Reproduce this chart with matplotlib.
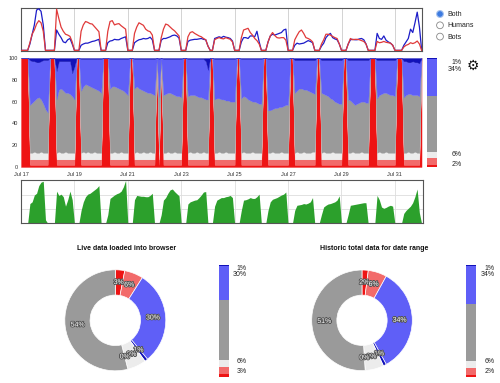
import numpy as np
import pandas as pd
import matplotlib
matplotlib.use('Agg')
import matplotlib.pyplot as plt
from matplotlib.patches import Circle
import matplotlib.patheffects as pe

plt.rcParams['font.family'] = ['Liberation Sans', 'DejaVu Sans']

# ---------------- data ----------------
start = pd.Timestamp('2013-07-17 00:00')
times = pd.date_range(start, periods=181, freq='2h')   # every 2 h, Jul 17 -> Aug 1
tick_dates = pd.date_range(start, periods=8, freq='2D')
tick_labels = ['Jul 17', 'Jul 19', 'Jul 21', 'Jul 23', 'Jul 25', 'Jul 27', 'Jul 29', 'Jul 31']

# top chart: activity lines (relative)
line_red = [
    0, 0, 0, 0, 18, 38, 48, 62, 70, 65, 45, 0,
    0, 0, 0, 0, 97, 75, 55, 45, 38, 36, 33, 20,
    0, 0, 0, 45, 60, 68, 66, 63, 62, 56, 50, 44,
    0, 0, 0, 45, 68, 70, 60, 62, 63, 58, 54, 50,
    0, 0, 0, 40, 55, 65, 62, 59, 50, 46, 44, 36,
    0, 0, 0, 30, 50, 62, 60, 55, 50, 46, 40, 34,
    0, 0, 0, 32, 42, 44, 40, 37, 34, 32, 28, 25,
    10, 0, 0, 25, 28, 30, 28, 27, 30, 28, 26, 20,
    0, 0, 0, 30, 48, 50, 52, 42, 36, 28, 23, 15,
    0, 0, 0, 20, 34, 42, 35, 30, 29, 30, 30, 24,
    0, 0, 0, 25, 35, 44, 48, 40, 30, 28, 25, 20,
    0, 0, 0, 15, 25, 38, 38, 36, 33, 30, 28, 15,
    0, 0, 0, 15, 28, 25, 26, 26, 25, 23, 21, 15,
    0, 0, 0, 0, 21, 18, 19, 21, 19, 18, 17, 12,
    0, 0, 0, 0, 8, 12, 14, 18, 16, 18, 22, 15,
    0]
line_blue = [
    0, 0, 0, 0, 15, 38, 60, 95, 98, 92, 60, 0,
    0, 0, 0, 0, 48, 38, 30, 20, 18, 25, 28, 15,
    0, 0, 0, 12, 15, 17, 17, 19, 21, 22, 24, 26,
    0, 0, 0, 18, 22, 23, 26, 25, 25, 28, 30, 32,
    0, 0, 0, 18, 22, 25, 26, 28, 27, 28, 31, 25,
    0, 0, 0, 24, 28, 28, 30, 32, 35, 36, 34, 29,
    0, 0, 0, 21, 24, 25, 26, 26, 27, 28, 26, 25,
    10, 0, 0, 28, 30, 32, 30, 33, 31, 30, 28, 22,
    0, 0, 0, 20, 30, 30, 28, 34, 34, 32, 45, 20,
    0, 0, 0, 20, 34, 38, 36, 38, 40, 42, 48, 50,
    0, 0, 0, 12, 17, 15, 16, 17, 20, 23, 21, 18,
    0, 0, 0, 10, 17, 30, 36, 40, 30, 27, 25, 15,
    0, 0, 0, 15, 25, 26, 25, 25, 27, 28, 25, 15,
    0, 0, 0, 0, 40, 28, 26, 34, 24, 20, 17, 12,
    0, 0, 0, 0, 12, 20, 28, 50, 42, 65, 90, 55,
    0]

# stacked share (%) of each category
pct_red = [
    100, 100, 100, 100, 2, 2, 2, 2, 2, 2, 2, 2,
    2, 100, 100, 100, 2, 2, 2, 2, 2, 2, 2, 2,
    2, 100, 100, 2, 2, 2, 2, 2, 2, 2, 2, 2,
    2, 100, 100, 100, 2, 2, 2, 2, 2, 2, 2, 2,
    2, 100, 100, 2, 2, 2, 2, 2, 2, 2, 2, 2,
    2, 100, 2, 100, 2, 2, 2, 2, 2, 2, 2, 2,
    2, 100, 100, 2, 2, 2, 2, 2, 2, 2, 2, 2,
    2, 100, 100, 2, 2, 2, 2, 2, 2, 2, 2, 2,
    2, 100, 100, 2, 2, 2, 2, 2, 2, 2, 2, 2,
    2, 100, 100, 2, 2, 2, 2, 2, 2, 2, 2, 2,
    2, 100, 100, 2, 2, 2, 2, 2, 2, 2, 2, 2,
    2, 100, 100, 2, 2, 2, 2, 2, 2, 2, 2, 2,
    2, 100, 100, 2, 2, 2, 2, 2, 2, 2, 2, 2,
    2, 100, 100, 100, 2, 2, 2, 2, 2, 2, 2, 2,
    2, 100, 100, 100, 2, 2, 2, 2, 2, 2, 2, 2,
    100]
pct_salmon = [
    0, 0, 0, 0, 5, 5, 5, 5, 5, 5, 5, 5,
    5, 0, 0, 0, 5, 5, 5, 5, 5, 5, 5, 5,
    5, 0, 0, 5, 5, 5, 5, 5, 5, 5, 5, 5,
    5, 0, 0, 0, 5, 5, 5, 5, 5, 5, 5, 5,
    5, 0, 0, 5, 5, 5, 5, 5, 5, 5, 5, 5,
    5, 0, 5, 0, 5, 5, 5, 5, 5, 5, 5, 5,
    5, 0, 0, 5, 5, 5, 5, 5, 5, 5, 5, 5,
    5, 0, 0, 5, 5, 5, 5, 5, 5, 5, 5, 5,
    5, 0, 0, 5, 5, 5, 5, 5, 5, 5, 5, 5,
    5, 0, 0, 5, 5, 5, 5, 5, 5, 5, 5, 5,
    5, 0, 0, 5, 5, 5, 5, 5, 5, 5, 5, 5,
    5, 0, 0, 5, 5, 5, 5, 5, 5, 5, 5, 5,
    5, 0, 0, 5, 5, 5, 5, 5, 5, 5, 5, 5,
    5, 0, 0, 0, 5, 5, 5, 5, 5, 5, 5, 5,
    5, 0, 0, 0, 5, 5, 5, 5, 5, 5, 5, 5,
    0]
pct_white = [
    0, 0, 0, 0, 6, 6, 7, 6, 6, 7, 6, 6,
    6, 0, 0, 0, 6, 7, 6, 6, 7, 6, 6, 6,
    6, 0, 0, 6, 7, 6, 7, 6, 6, 7, 6, 6,
    6, 0, 0, 0, 6, 6, 7, 6, 6, 7, 6, 6,
    6, 0, 0, 6, 7, 6, 6, 7, 6, 6, 7, 6,
    6, 0, 6, 0, 6, 6, 7, 6, 6, 7, 6, 6,
    6, 0, 0, 6, 7, 6, 6, 7, 6, 6, 7, 6,
    6, 0, 0, 6, 6, 7, 6, 6, 7, 6, 6, 6,
    6, 0, 0, 6, 7, 6, 6, 6, 7, 6, 6, 6,
    6, 0, 0, 6, 6, 7, 6, 6, 6, 7, 6, 6,
    6, 0, 0, 6, 7, 6, 6, 7, 6, 6, 6, 7,
    7, 0, 0, 6, 7, 6, 6, 6, 7, 6, 6, 6,
    6, 0, 0, 6, 6, 7, 6, 6, 6, 7, 6, 6,
    6, 0, 0, 0, 6, 7, 6, 6, 7, 6, 6, 6,
    6, 0, 0, 0, 6, 6, 7, 6, 6, 7, 6, 6,
    0]
pct_gray = [
    0, 0, 0, 0, 44, 46, 47, 50, 51, 48, 45, 40,
    37, 0, 0, 0, 49, 57, 59, 57, 54, 55, 54, 52,
    49, 0, 0, 57, 60, 63, 61, 61, 60, 58, 58, 57,
    55, 0, 0, 0, 59, 61, 60, 60, 59, 57, 57, 55,
    53, 0, 0, 59, 60, 59, 58, 56, 56, 55, 54, 54,
    53, 0, 51, 0, 53, 54, 54, 55, 54, 52, 52, 52,
    51, 0, 0, 52, 52, 53, 53, 51, 51, 51, 49, 49,
    49, 0, 0, 49, 50, 49, 49, 49, 47, 48, 47, 47,
    47, 0, 0, 50, 51, 51, 49, 48, 46, 47, 46, 45,
    45, 0, 0, 39, 39, 39, 41, 41, 42, 41, 43, 44,
    44, 0, 0, 55, 56, 59, 59, 57, 58, 57, 56, 54,
    53, 0, 0, 55, 53, 53, 52, 50, 48, 47, 46, 45,
    45, 0, 0, 49, 48, 45, 44, 45, 46, 46, 47, 46,
    46, 0, 0, 0, 50, 52, 54, 55, 54, 54, 53, 53,
    52, 0, 0, 0, 51, 53, 53, 54, 53, 52, 53, 52,
    0]
pct_blue = [
    0, 0, 0, 0, 41, 38, 36, 33, 32, 35, 40, 45,
    48, 0, 0, 0, 26, 26, 25, 27, 29, 29, 30, 21,
    30, 0, 0, 29, 25, 23, 24, 25, 26, 27, 28, 29,
    31, 0, 0, 0, 27, 25, 25, 26, 27, 28, 29, 31,
    33, 0, 0, 27, 25, 27, 28, 29, 30, 31, 31, 32,
    33, 0, 35, 0, 33, 32, 31, 31, 32, 33, 34, 34,
    35, 0, 0, 34, 33, 33, 33, 34, 35, 35, 36, 35,
    27, 0, 0, 37, 36, 36, 37, 37, 38, 38, 39, 39,
    39, 0, 0, 36, 34, 35, 37, 38, 39, 39, 40, 41,
    41, 0, 0, 47, 47, 46, 45, 45, 44, 44, 43, 42,
    42, 0, 0, 30, 28, 26, 26, 27, 27, 28, 29, 30,
    31, 0, 0, 30, 31, 32, 33, 35, 36, 38, 39, 40,
    40, 0, 0, 36, 37, 39, 41, 40, 39, 38, 38, 39,
    39, 0, 0, 0, 35, 32, 31, 30, 30, 31, 32, 32,
    33, 0, 0, 0, 33, 31, 29, 29, 31, 30, 30, 30,
    0]
pct_dblue = [
    0, 0, 0, 0, 2, 3, 3, 4, 4, 3, 2, 2,
    2, 0, 0, 0, 12, 3, 3, 3, 3, 3, 3, 14,
    8, 0, 0, 1, 1, 1, 1, 1, 1, 1, 1, 1,
    1, 0, 0, 0, 1, 1, 1, 1, 1, 1, 1, 1,
    1, 0, 0, 1, 1, 1, 1, 1, 1, 1, 1, 1,
    1, 0, 1, 0, 1, 1, 1, 1, 1, 1, 1, 1,
    1, 0, 0, 1, 1, 1, 1, 1, 1, 1, 1, 3,
    11, 0, 0, 1, 1, 1, 1, 1, 1, 1, 1, 1,
    1, 0, 0, 1, 1, 1, 1, 1, 1, 1, 1, 1,
    1, 0, 0, 1, 1, 1, 1, 1, 1, 1, 1, 1,
    1, 0, 0, 2, 2, 2, 2, 2, 2, 2, 2, 2,
    2, 0, 0, 2, 2, 2, 2, 2, 2, 2, 2, 2,
    2, 0, 0, 2, 2, 2, 2, 2, 2, 2, 2, 2,
    2, 0, 0, 0, 2, 2, 2, 2, 2, 2, 2, 2,
    2, 0, 0, 0, 3, 3, 4, 4, 3, 4, 4, 5,
    0]

# bottom chart: total volume
volume = [
    0, 0, 0, 0, 46, 50, 66, 70, 88, 96, 98, 8,
    0, 0, 0, 0, 75, 65, 68, 62, 40, 55, 75, 55,
    0, 0, 0, 30, 50, 62, 68, 70, 74, 78, 82, 88,
    0, 0, 0, 20, 58, 62, 66, 69, 71, 75, 85, 100,
    0, 0, 0, 55, 65, 64, 63, 63, 62, 62, 65, 70,
    0, 0, 0, 20, 54, 60, 70, 78, 80, 74, 69, 64,
    0, 0, 0, 45, 50, 52, 54, 55, 60, 66, 73, 74,
    0, 0, 0, 40, 54, 57, 60, 60, 62, 63, 65, 60,
    0, 0, 0, 30, 54, 55, 57, 60, 58, 58, 62, 68,
    0, 0, 0, 30, 50, 56, 58, 60, 63, 66, 68, 73,
    0, 0, 0, 30, 42, 43, 44, 46, 45, 47, 50, 60,
    0, 0, 0, 20, 38, 42, 45, 46, 48, 50, 54, 64,
    0, 0, 0, 20, 42, 43, 44, 45, 46, 47, 48, 48,
    0, 0, 0, 0, 65, 55, 38, 35, 37, 40, 42, 40,
    0, 0, 0, 0, 23, 30, 35, 40, 48, 62, 80, 25,
    0]

# category totals (%), order: red, salmon, white, gray, blue, dark blue
cat_colors = ['#ee1414', '#f26a6a', '#ececec', '#9a9a9a', '#5f5ff7', '#1212b8']
range_share = [2, 6, 6, 51, 34, 1]          # side bar of main chart / historic
live_share = [3, 6, 6, 54, 30, 1]           # live data
# pie order (clockwise from top): red, salmon, blue, dark blue, white, none, gray
pie_colors = ['#ee1414', '#f26a6a', '#5f5ff7', '#1212b8', '#ececec', '#cccccc', '#9a9a9a']
live_pie = [3, 6, 30, 1, 6, 0, 54]
hist_pie = [2, 6, 34, 1, 6, 0, 51]

radio_labels = ['Both', 'Humans', 'Bots']
title_live = 'Live data loaded into browser'
title_hist = 'Historic total data for date range'

# ---------------- layout ----------------
W, H = 500, 383


def box(x0, y0, x1, y1):
    return [x0 / W, 1 - y1 / H, (x1 - x0) / W, (y1 - y0) / H]


fig = plt.figure(figsize=(5, 3.83), dpi=100)
xmin = start
xmax = start + pd.Timedelta(hours=361.3)

# --- top line chart
ax_top = fig.add_axes(box(21, 7.5, 422, 51))
ax_top.plot(times, line_blue, color='#1c1cc8', lw=0.9, zorder=3)
ax_top.plot(times, line_red, color='#e03a3a', lw=0.9, zorder=4)
ax_top.set_xlim(xmin, start + pd.Timedelta(hours=360.3))
ax_top.set_ylim(-1.5, 101)
ax_top.set_xticks(tick_dates)
ax_top.set_xticklabels([])
ax_top.set_yticks([])
ax_top.tick_params(length=0)
ax_top.grid(axis='x', color='#cccccc', lw=0.6)
for s in ax_top.spines.values():
    s.set_color('#555555')
    s.set_linewidth(0.8)

# --- main stacked chart
ax_main = fig.add_axes(box(21, 58, 423, 167))
ax_main.stackplot(times, pct_red, pct_salmon, pct_white, pct_gray, pct_blue, pct_dblue,
                  colors=cat_colors, edgecolor='face', linewidth=0.2)
ax_main.set_xlim(xmin, xmax)
ax_main.set_ylim(0, 100)
ax_main.set_yticks([0, 20, 40, 60, 80, 100])
ax_main.set_xticks(tick_dates)
ax_main.set_xticklabels(tick_labels)
ax_main.tick_params(length=0, labelsize=4, colors='#333333', pad=2)
ax_main.tick_params(axis='x', pad=3.5)
for s in ax_main.spines.values():
    s.set_visible(False)

# --- side share bar
ax_side = fig.add_axes(box(427, 58, 437, 167))
bottom = 0
for v, c in zip(range_share, cat_colors):
    ax_side.bar(0, v, bottom=bottom, width=1, color=c, lw=0)
    bottom += v
ax_side.set_xlim(-0.5, 0.5)
ax_side.set_ylim(0, 100)
ax_side.axis('off')

# --- green volume chart
ax_green = fig.add_axes(box(21, 180, 423, 223.3))
ax_green.fill_between(times, volume, color='#2ca02c', lw=0, zorder=2)
ax_green.set_xlim(xmin, xmax)
ax_green.set_ylim(0, 101)
ax_green.set_xticks(tick_dates)
ax_green.set_yticks([33.3, 66.7])
ax_green.set_xticklabels([])
ax_green.set_yticklabels([])
ax_green.tick_params(length=0)
ax_green.grid(color='#dddddd', lw=0.6, zorder=0)
ax_green.set_axisbelow(True)
for s in ax_green.spines.values():
    s.set_color('#555555')
    s.set_linewidth(0.8)

# --- pies
stroke = [pe.withStroke(linewidth=1.3, foreground='#555555')]


def donut(ax, vals):
    wedges, texts, autotexts = ax.pie(
        vals, colors=pie_colors, startangle=90, counterclock=False, radius=1,
        wedgeprops=dict(width=0.5, edgecolor='white', linewidth=0.5),
        autopct=lambda p: f'{p:.0f}%', pctdistance=0.75,
        textprops=dict(color='white', fontsize=5))
    for t in autotexts:
        t.set_path_effects(stroke)
    ax.set_xlim(-1, 1)
    ax.set_ylim(-1, 1)
    ax.set_aspect('equal')


ax_p1 = fig.add_axes(box(64.8, 269.8, 165.8, 370.8))
donut(ax_p1, live_pie)
ax_p2 = fig.add_axes(box(311.7, 270, 412.3, 370.6))
donut(ax_p2, hist_pie)


def share_bar(ax, vals):
    b = 0
    for v, c in zip(vals, cat_colors):
        ax.bar(0, v, bottom=b, width=1, color=c, lw=0)
        b += v
    ax.set_xlim(-0.5, 0.5)
    ax.set_ylim(0, 100)
    ax.axis('off')


ax_b1 = fig.add_axes(box(219, 265, 229, 377))
share_bar(ax_b1, live_share)
ax_b2 = fig.add_axes(box(466, 265, 476, 377))
share_bar(ax_b2, hist_share := range_share)

# --- overlay for texts / controls (pixel coordinates)
ov = fig.add_axes([0, 0, 1, 1])
ov.set_xlim(0, W)
ov.set_ylim(H, 0)
ov.axis('off')

for i, lab in enumerate(radio_labels):
    yy = 14 + i * 11.3
    if i == 0:
        ov.add_patch(Circle((440, yy), 3.4, facecolor='#3d7be0', edgecolor='#a9c4ee', lw=0.8))
    else:
        ov.add_patch(Circle((440, yy), 3.4, facecolor='white', edgecolor='#888888', lw=0.6))
    ov.text(447, yy + 0.5, lab, fontsize=5, va='center', ha='left', color='#222222')

ov.text(473, 66, '\u2699', fontsize=10, ha='center', va='center', color='#111111',
        family='DejaVu Sans', fontweight='bold')


def bar_labels(xr, vals, ys):
    # vals order: red, salmon, white, gray, blue, dblue
    ov.text(xr, ys[0], f'{vals[5]}%', fontsize=5, ha='right', va='center', color='#222222')
    ov.text(xr, ys[1], f'{vals[4]}%', fontsize=5, ha='right', va='center', color='#222222')
    ov.text(xr, ys[2], f'{vals[2]}%', fontsize=5, ha='right', va='center', color='#222222')
    ov.text(xr, ys[3], f'{vals[0]}%', fontsize=5, ha='right', va='center', color='#222222')


bar_labels(462, range_share, [62.7, 69.5, 155, 165])
bar_labels(247, live_share, [268, 275, 361.7, 371.7])
bar_labels(495, range_share, [269, 275, 361.7, 371.7])

ov.text(127, 249, title_live, fontsize=5, fontweight='bold', ha='center', va='center', color='#111111')
ov.text(374, 249, title_hist, fontsize=5, fontweight='bold', ha='center', va='center', color='#111111')

fig.savefig('out.png', dpi=100)
